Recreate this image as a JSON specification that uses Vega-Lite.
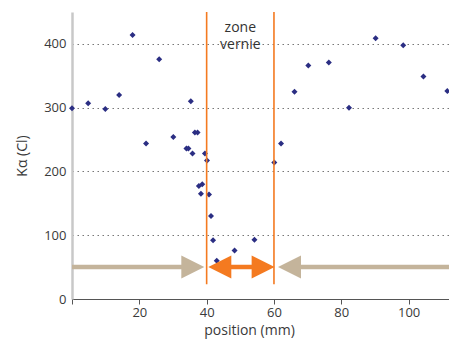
{
  "$schema": "https://vega.github.io/schema/vega-lite/v6.json",
  "width": 377,
  "height": 287,
  "autosize": "none",
  "padding": {"left": 72, "top": 12, "right": 0, "bottom": 47},
  "background": "white",
  "config": {
    "view": {"stroke": null},
    "font": "Open Sans",
    "axis": {"labelFont": "Open Sans", "titleFont": "Open Sans", "labelColor": "#3a3a3a", "titleColor": "#3a3a3a", "titleFontWeight": "normal"}
  },
  "datasets": {
    "points": [
      {"position": 0, "ka": 299}, {"position": 4.8, "ka": 307}, {"position": 9.9, "ka": 298},
      {"position": 14.0, "ka": 320}, {"position": 18.0, "ka": 414}, {"position": 22.0, "ka": 244},
      {"position": 25.9, "ka": 376}, {"position": 30.1, "ka": 254}, {"position": 34.0, "ka": 236},
      {"position": 34.6, "ka": 236}, {"position": 35.3, "ka": 310}, {"position": 35.8, "ka": 228},
      {"position": 36.5, "ka": 261}, {"position": 37.3, "ka": 261}, {"position": 39.5, "ka": 228},
      {"position": 40.1, "ka": 217}, {"position": 37.7, "ka": 177}, {"position": 38.7, "ka": 180},
      {"position": 38.3, "ka": 165}, {"position": 40.7, "ka": 164}, {"position": 41.3, "ka": 130},
      {"position": 41.9, "ka": 92}, {"position": 43.0, "ka": 60}, {"position": 48.3, "ka": 76},
      {"position": 54.2, "ka": 93}, {"position": 60.1, "ka": 214}, {"position": 62.1, "ka": 244},
      {"position": 66.1, "ka": 325}, {"position": 70.2, "ka": 366}, {"position": 76.3, "ka": 371},
      {"position": 82.3, "ka": 300}, {"position": 90.2, "ka": 409}, {"position": 98.4, "ka": 398},
      {"position": 104.4, "ka": 349}, {"position": 111.5, "ka": 326}
    ],
    "zone": [{"position": 40, "ka": 23, "top": 450}, {"position": 60, "ka": 23, "top": 450}],
    "grayLines": [{"from": 0, "to": 36, "ka": 50}, {"from": 64, "to": 112, "ka": 50}],
    "grayHeadRight": [{"position": 39.3, "ka": 50}],
    "grayHeadLeft": [{"position": 61.2, "ka": 50}],
    "orangeLine": [{"from": 45, "to": 55, "ka": 50}],
    "orangeHeadLeft": [{"position": 40.5, "ka": 50}],
    "orangeHeadRight": [{"position": 60.2, "ka": 50}],
    "label": [{"position": 50, "ka": 425, "text": "zone"}, {"position": 50, "ka": 398, "text": "vernie"}]
  },
  "layer": [
    {
      "data": {"name": "points"},
      "mark": {"type": "point", "shape": "diamond", "filled": true, "size": 36, "color": "#2b2e83", "opacity": 1, "clip": false},
      "encoding": {
        "x": {"field": "position", "type": "quantitative", "scale": {"domain": [0, 112], "nice": false, "zero": false},
          "axis": {"title": "position (mm)", "values": [0, 20, 40, 60, 80, 100], "labelExpr": "datum.value == 0 ? '' : datum.label",
            "grid": false, "domainColor": "#555555", "domainWidth": 1, "tickColor": "#555555", "tickSize": 5,
            "labelFontSize": 13, "labelPadding": 2, "titleFontSize": 14, "titlePadding": 4, "titleX": 177}},
        "y": {"field": "ka", "type": "quantitative", "scale": {"domain": [0, 450], "nice": false},
          "axis": {"title": "Kα (Cl)", "values": [0, 50, 100, 150, 200, 250, 300, 350, 400, 450],
            "labelExpr": "datum.value % 100 == 0 ? datum.label : ''",
            "grid": true, "gridDash": [1.5, 3.5], "gridColor": "#777777", "gridWidth": 1,
            "ticks": false, "domainColor": "#c8c8c8", "domainWidth": 2.5,
            "labelFontSize": 13, "labelPadding": 6, "titleFontSize": 14, "titlePadding": 14}}
      }
    },
    {
      "data": {"name": "zone"},
      "mark": {"type": "rule", "color": "#f47a20", "strokeWidth": 1.6},
      "encoding": {"x": {"field": "position", "type": "quantitative"}, "y": {"field": "ka", "type": "quantitative"}, "y2": {"field": "top"}}
    },
    {
      "data": {"name": "grayLines"},
      "mark": {"type": "rule", "color": "#c4b49b", "strokeWidth": 4.5, "strokeCap": "butt"},
      "encoding": {"x": {"field": "from", "type": "quantitative"}, "x2": {"field": "to"}, "y": {"field": "ka", "type": "quantitative"}}
    },
    {
      "data": {"name": "grayHeadRight"},
      "mark": {"type": "point", "shape": "M0,0L-2,-1L-2,1Z", "filled": true, "size": 529, "color": "#c4b49b", "opacity": 1},
      "encoding": {"x": {"field": "position", "type": "quantitative"}, "y": {"field": "ka", "type": "quantitative"}}
    },
    {
      "data": {"name": "grayHeadLeft"},
      "mark": {"type": "point", "shape": "M0,0L2,-1L2,1Z", "filled": true, "size": 529, "color": "#c4b49b", "opacity": 1},
      "encoding": {"x": {"field": "position", "type": "quantitative"}, "y": {"field": "ka", "type": "quantitative"}}
    },
    {
      "data": {"name": "orangeLine"},
      "mark": {"type": "rule", "color": "#f47a20", "strokeWidth": 4.5, "strokeCap": "butt"},
      "encoding": {"x": {"field": "from", "type": "quantitative"}, "x2": {"field": "to"}, "y": {"field": "ka", "type": "quantitative"}}
    },
    {
      "data": {"name": "orangeHeadLeft"},
      "mark": {"type": "point", "shape": "M0,0L2,-1L2,1Z", "filled": true, "size": 529, "color": "#f47a20", "opacity": 1},
      "encoding": {"x": {"field": "position", "type": "quantitative"}, "y": {"field": "ka", "type": "quantitative"}}
    },
    {
      "data": {"name": "orangeHeadRight"},
      "mark": {"type": "point", "shape": "M0,0L-2,-1L-2,1Z", "filled": true, "size": 529, "color": "#f47a20", "opacity": 1},
      "encoding": {"x": {"field": "position", "type": "quantitative"}, "y": {"field": "ka", "type": "quantitative"}}
    },
    {
      "data": {"name": "label"},
      "mark": {"type": "text", "font": "Open Sans", "fontSize": 14, "color": "#333333", "align": "center", "baseline": "middle"},
      "encoding": {"x": {"field": "position", "type": "quantitative"}, "y": {"field": "ka", "type": "quantitative"}, "text": {"field": "text"}}
    }
  ]
}
